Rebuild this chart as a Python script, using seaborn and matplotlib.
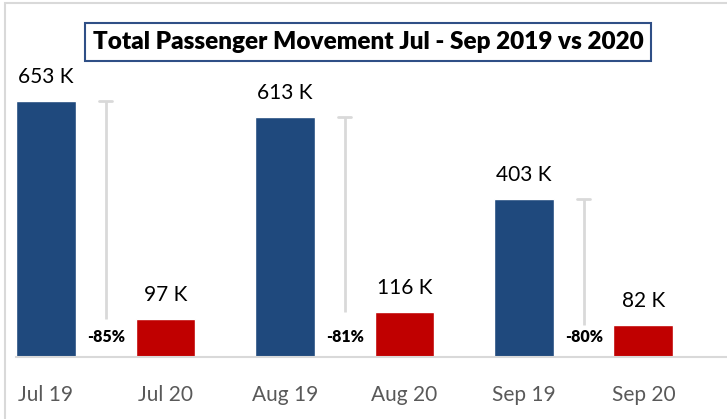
import matplotlib
matplotlib.use("Agg")
import matplotlib.pyplot as plt
import seaborn as sns
import pandas as pd
from matplotlib.patches import Rectangle

categories = ["Jul 19", "Jul 20", "Aug 19", "Aug 20", "Sep 19", "Sep 20"]
values = [653, 97, 613, 116, 403, 82]
years = ["2019", "2020", "2019", "2020", "2019", "2020"]
pct_labels = ["-85%", "-81%", "-80%"]
title = "Total Passenger Movement Jul - Sep 2019 vs 2020"

df = pd.DataFrame({"cat": categories, "val": values, "year": years})

sns.set_theme(style="white")
plt.rcParams["font.family"] = ["Lato", "DejaVu Sans"]

W, H = 727, 419
fig = plt.figure(figsize=(W / 100, H / 100), dpi=100)
ax = fig.add_axes([16 / W, 62 / H, (W - 16) / W, 357 / H])

sns.barplot(data=df, x="cat", y="val", hue="year", dodge=False, width=0.5,
            palette={"2019": "#1F497D", "2020": "#C00000"}, ax=ax,
            legend=False, saturation=1)

ax.set_xlim(-0.251, 5.70)
ax.set_ylim(0, 357 / 0.392)

# value labels
for i, v in enumerate(values):
    ax.annotate(f"{v} K", (i, v), xytext=(0, 24), textcoords="offset pixels",
                ha="center", va="center", fontsize=15, color="#000000")

# change lines and percent labels
for k in range(3):
    x = 2 * k + 0.5
    hi = values[2 * k]
    lo = values[2 * k + 1]
    ax.plot([x, x], [lo, hi], color="#D9D9D9", lw=2, solid_capstyle="butt", zorder=1)
    ax.plot([x - 0.055, x + 0.055], [hi, hi], color="#D9D9D9", lw=2, zorder=1)
    ax.annotate(pct_labels[k], (x, 0), xytext=(0, 20), textcoords="offset pixels",
                ha="center", va="center", fontsize=11.5, fontweight="heavy",
                color="#000000")

ax.set_xlabel("")
ax.set_ylabel("")
ax.set_yticks([])
ax.tick_params(axis="x", length=0, pad=20, labelsize=15, labelcolor="#595959")
for s in ["top", "right", "left"]:
    ax.spines[s].set_visible(False)
ax.spines["bottom"].set_color("#D9D9D9")
ax.spines["bottom"].set_linewidth(1.5)
ax.patch.set_alpha(0)

# outer frame
fig.patches.append(Rectangle((5 / W, -0.1), 1.2, (H - 3) / H + 0.1,
                             transform=fig.transFigure, fill=False,
                             edgecolor="#D9D9D9", lw=1.5, zorder=0))

# title box
fig.text(368 / W, 1 - 42 / H, title, ha="center", va="center",
         fontsize=17.5, fontweight="heavy", color="#000000",
         bbox=dict(boxstyle="square,pad=0.33", facecolor="white",
                   edgecolor="#2F4F86", lw=1.5))

fig.savefig("out.png", dpi=100)
